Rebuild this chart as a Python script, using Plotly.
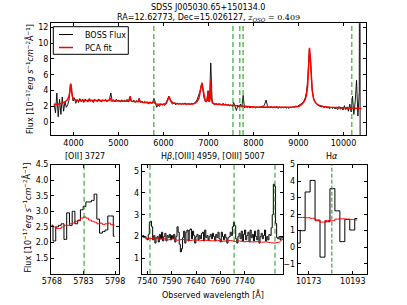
import numpy as np
import plotly.graph_objects as go

W, H = 407, 305

# ---------------- data ----------------
# full BOSS spectrum, regular wavelength grid (start/step), flux in 1e-17 erg/s/cm2/A
full_wave_start = 3570.0
full_wave_step = 30.0
full_flux = [
    2.3, 1.2, 3.7, 0.7, 2.9, 1.0, 3.2, 1.4, 2.6, 1.9,
    2.2, 2.8, 4.8, 3.6, 2.7, 3.1, 2.4, 2.9, 2.5, 3.0,
    2.6, 2.9, 2.5, 2.95, 2.7, 2.55, 3.0, 2.65, 2.8, 2.5,
    2.9, 2.7, 2.6, 2.95, 2.75, 2.55, 2.85, 2.7, 2.9, 2.6,
    2.75, 2.9, 3.7, 2.7, 2.85, 2.6, 2.9, 2.7, 2.8, 2.55,
    2.85, 2.6, 2.8, 2.65, 2.9, 2.55, 3.2, 2.7, 2.6, 2.8,
    2.5, 2.75, 2.6, 3.0, 2.5, 2.7, 2.45, 2.65, 2.5, 2.6,
    2.3, 2.6, 2.4, 2.5, 3.0, 2.3, 1.9, 2.2, 2.0, 2.35,
    2.2, 2.3, 2.15, 2.5, 2.9, 3.3, 2.8, 2.4, 2.3, 2.5,
    2.2, 2.45, 2.3, 2.4, 2.25, 2.4, 2.3, 2.45, 2.2, 2.35,
    2.3, 2.25, 2.4, 2.3, 2.45, 2.6, 2.9, 3.3, 3.9, 4.7,
    4.3, 3.1, 2.6, 2.7, 4.0, 2.6, 7.5, 2.8, 2.3, 2.2,
    2.4, 2.2, 2.35, 2.3, 2.2, 2.4, 2.25, 2.3, 2.15, 2.25,
    2.1, 2.2, 2.0, 2.5, 1.9, 1.5, 2.1, 1.9, 2.3, 1.9,
    3.4, 1.8, 2.0, 1.85, 2.0, 1.8, 1.95, 1.85, 2.0, 1.8,
    1.95, 1.85, 2.0, 1.9, 2.05, 2.0, 2.3, 2.8, 2.1, 1.9,
    1.85, 2.0, 1.8, 1.95, 1.85, 2.0, 1.75, 1.95, 1.8, 1.9,
    1.85, 1.95, 1.8, 1.9, 1.75, 1.95, 1.85, 2.0, 1.9, 2.05,
    2.0, 2.1, 2.2, 2.3, 2.45, 2.7, 3.1, 3.9, 5.8, 9.2,
    7.6, 4.4, 3.1, 2.6, 2.35, 2.2, 2.1, 2.0, 1.95, 2.0,
    1.85, 2.0, 1.8, 1.9, 1.7, 1.95, 1.75, 1.9, 1.7, 1.85,
    1.6, 2.0, 1.65, 1.9, 1.55, 2.1, 1.6, 1.95, 1.4, 2.3,
    1.3, 3.3, 1.0, 2.6, 5.3, 0.8, 3.8,
]
# last (bad, off-scale) pixels of the spectrum
tail_wave = [10366.0, 10371.0]
tail_flux = [60.0, -40.0]

# PCA fit of the full spectrum
pca_wave = [3570, 3620, 3680, 3740, 3800, 3850, 3890, 3915, 3930, 3942,
            3955, 3975, 4000, 4050, 4120, 4200, 4300, 4400, 4500, 4600,
            4700, 4790, 4815, 4840, 4950, 5050, 5150, 5235, 5260, 5285,
            5380, 5440, 5458, 5476, 5560, 5660, 5750, 5780, 5800, 5840,
            5920, 6000, 6060, 6095, 6125, 6155, 6210, 6300, 6420, 6540,
            6640, 6700, 6750, 6790, 6820, 6840, 6855, 6870, 6890, 6920,
            6950, 6975, 6988, 7002, 7025, 7042, 7052, 7062, 7085, 7150,
            7250, 7380, 7500, 7650, 7800, 7950, 8100, 8300, 8500, 8700,
            8900, 9000, 9060, 9110, 9150, 9180, 9205, 9225, 9245, 9262,
            9280, 9305, 9340, 9390, 9450, 9550, 9700, 9850, 10000, 10150,
            10300, 10400]
pca_flux = [2.3, 2.25, 2.3, 2.4, 2.55, 2.75, 3.1, 3.7, 4.4, 4.9,
            4.3, 3.3, 2.95, 2.8, 2.75, 2.8, 2.75, 2.8, 2.75, 2.75,
            2.7, 2.75, 3.05, 2.7, 2.7, 2.65, 2.65, 2.7, 3.3, 2.65,
            2.6, 2.6, 3.0, 2.6, 2.5, 2.45, 2.45, 2.7, 2.45, 2.3,
            2.25, 2.25, 2.4, 2.85, 3.25, 2.8, 2.45, 2.35, 2.3, 2.3,
            2.3, 2.4, 2.65, 3.1, 3.8, 4.5, 5.0, 4.5, 3.6, 2.9,
            2.65, 2.8, 3.8, 2.7, 2.6, 3.5, 5.3, 3.2, 2.45, 2.3,
            2.25, 2.2, 2.1, 2.0, 1.95, 1.92, 1.9, 1.95, 1.9, 1.9,
            1.95, 2.0, 2.2, 2.5, 2.9, 3.5, 4.7, 6.8, 9.4, 8.2,
            6.0, 4.0, 2.9, 2.4, 2.15, 2.0, 1.9, 1.85, 1.8, 1.78,
            1.75, 1.75]

# background emission lines at z = 0.5517: [OII]3727, Hb, [OIII]4959, [OIII]5007, Ha
line_wave = [5783.3, 7543.2, 7695.1, 7769.0, 10183.5]

# [OII] 3727 zoom
oii_wave_start, oii_wave_step = 5767.9, 1.3
oii_flux = [2.55, 2.05, 2.5, 2.55, 2.6, 2.1, 2.95, 2.55, 3.0, 2.6,
            2.7, 3.05, 3.15, 3.3, 3.3, 3.35, 3.55, 2.75, 2.3, 2.35,
            2.4, 2.85, 2.85, 2.2]
oii_pca = [2.55, 2.5, 2.45, 2.45, 2.5, 2.55, 2.55, 2.6, 2.62, 2.68,
           2.72, 2.78, 2.82, 2.78, 2.72, 2.68, 2.65, 2.6, 2.62, 2.58,
           2.6, 2.62, 2.57, 2.55]

# Hb / [OIII] zoom
mid_wave_start, mid_wave_step = 7529.0, 2.0
mid_flux = [
    2.0, 2.05, 1.95, 2.0, 1.9, 1.85, 2.1, 2.65, 2.7, 2.45,
    1.85, 2.05, 1.7, 1.95, 2.0, 1.75, 2.1, 1.9, 2.2, 1.8,
    2.0, 2.15, 1.8, 2.05, 1.95, 2.1, 1.85, 2.05, 1.9, 2.1,
    1.75, 2.0, 2.45, 2.2, 1.65, 1.3, 1.45, 1.95, 2.25, 1.7,
    2.2, 2.3, 1.8, 2.3, 2.35, 1.9, 2.25, 2.05, 1.7, 2.0,
    2.1, 1.85, 2.05, 1.9, 2.15, 2.2, 1.8, 2.3, 1.95, 2.05,
    1.85, 2.0, 2.1, 1.9, 2.15, 2.0, 1.8, 2.1, 1.95, 2.2,
    1.9, 1.75, 2.2, 2.0, 1.85, 2.1, 1.95, 1.7, 1.95, 2.0,
    2.2, 2.05, 2.45, 2.65, 2.5, 1.9, 1.7, 2.0, 2.15, 1.9,
    2.25, 1.8, 2.1, 2.3, 1.85, 2.05, 2.2, 1.75, 2.3, 1.95,
    2.1, 1.8, 2.25, 2.0, 1.85, 2.3, 1.7, 2.0, 2.15, 1.9,
    2.05, 2.3, 1.8, 2.0, 1.85, 2.1, 2.05, 2.4, 3.0, 4.4,
    4.3, 2.6, 1.95, 1.9, 2.0, 1.85, 2.0, 1.95, 1.9,
]
mid_pca_wave = [7529, 7537, 7545, 7553, 7561, 7569, 7577, 7585, 7593, 7601,
                7609, 7617, 7625, 7633, 7641, 7649, 7657, 7665, 7673, 7681,
                7689, 7697, 7705, 7713, 7721, 7729, 7737, 7745, 7753, 7761,
                7769, 7777, 7785]
mid_pca = [2.0, 1.92, 1.9, 1.95, 1.88, 1.9, 1.85, 1.9, 1.83, 1.87,
           1.85, 1.82, 1.86, 1.8, 1.84, 1.82, 1.8, 1.83, 1.78, 1.8,
           1.82, 1.78, 1.8, 1.76, 1.78, 1.75, 1.77, 1.74, 1.76, 1.72,
           1.7, 1.75, 1.92]

# Ha zoom
ha_wave_start, ha_wave_step = 10168.0, 2.25
ha_flux = [0.25, 1.0, 3.34, 4.04, 1.64, -0.6, 1.54, 3.54, 2.2, 0.34, 1.68, 1.04, 1.74]
ha_pca = [1.8, 1.8, 1.78, 1.75, 1.6, 1.52, 1.62, 1.6, 1.7, 1.72, 1.7, 1.68, 1.65]

# ticks (positions as placed in the reference, and their labels)
top_xticks = [4000, 5000, 6000, 7000, 8000, 9000, 10000]
top_yticks = [0, 2, 4, 6, 8, 10, 12]
oii_xticks = [5768, 5783, 5798]
oii_yticks = [1.5, 2.0, 2.5, 3.0, 3.5, 4.0, 4.5]
mid_xtick_pos = [7538.3, 7582.2, 7626.3, 7670.2, 7714.1]
mid_xtick_labels = ["7540", "7590", "7640", "7690", "7740"]
mid_yticks = [1, 2, 3, 4, 5]
ha_xticks = [10173, 10193]
ha_yticks = [-1, 0, 1, 2, 3, 4, 5]

assert len(pca_wave) == len(pca_flux)
assert len(mid_pca_wave) == len(mid_pca)
assert len(oii_flux) == len(oii_pca)
assert len(ha_flux) == len(ha_pca)

full_wave = np.concatenate([full_wave_start + full_wave_step * np.arange(len(full_flux)), tail_wave])
full_all = list(full_flux) + list(tail_flux)
oii_wave = oii_wave_start + oii_wave_step * np.arange(len(oii_flux))
mid_wave = mid_wave_start + mid_wave_step * np.arange(len(mid_flux))
ha_wave = ha_wave_start + ha_wave_step * np.arange(len(ha_flux))

# ---------------- figure ----------------
FONT = "DejaVu Sans"
BLACK = "#000000"
RED = "#ff0000"
GREEN = "rgba(0,140,0,0.6)"

fig = go.Figure()
fig.add_trace(go.Scatter(x=full_wave, y=full_all, mode="lines", line=dict(color=BLACK, width=0.9),
                         xaxis="x", yaxis="y", hoverinfo="skip"))
fig.add_trace(go.Scatter(x=pca_wave, y=pca_flux, mode="lines", line=dict(color=RED, width=1.5),
                         xaxis="x", yaxis="y", hoverinfo="skip"))
fig.add_trace(go.Scatter(x=oii_wave, y=oii_flux, mode="lines", line=dict(color=BLACK, width=1, shape="hvh"),
                         xaxis="x2", yaxis="y2", hoverinfo="skip"))
fig.add_trace(go.Scatter(x=oii_wave, y=oii_pca, mode="lines", line=dict(color=RED, width=1, shape="hvh"),
                         xaxis="x2", yaxis="y2", hoverinfo="skip"))
fig.add_trace(go.Scatter(x=mid_wave, y=mid_flux, mode="lines", line=dict(color=BLACK, width=1, shape="hvh"),
                         xaxis="x3", yaxis="y3", hoverinfo="skip"))
fig.add_trace(go.Scatter(x=mid_pca_wave, y=mid_pca, mode="lines", line=dict(color=RED, width=1),
                         xaxis="x3", yaxis="y3", hoverinfo="skip"))
fig.add_trace(go.Scatter(x=ha_wave, y=ha_flux, mode="lines", line=dict(color=BLACK, width=1, shape="hvh"),
                         xaxis="x4", yaxis="y4", hoverinfo="skip"))
fig.add_trace(go.Scatter(x=ha_wave, y=ha_pca, mode="lines", line=dict(color=RED, width=1, shape="hvh"),
                         xaxis="x4", yaxis="y4", hoverinfo="skip"))


def px_x(p):
    return p / W


def px_y(p):
    return 1 - p / H


def fmt(v, dec):
    s = f"{v:.{dec}f}"
    return s.replace("-", "−")


def axis(domain, rng, tickvals, anchor, dec=0, ticktext=None):
    if ticktext is None:
        ticktext = [fmt(v, dec) for v in tickvals]
    return dict(domain=domain, range=rng, tickvals=tickvals, ticktext=ticktext,
                anchor=anchor, automargin=False,
                ticks="inside", ticklen=3, tickwidth=0.8, tickcolor="black",
                showline=True, linecolor="black", linewidth=1, mirror="ticks",
                showgrid=False, zeroline=False, fixedrange=True,
                tickfont=dict(family=FONT, size=8, color="black"))


top_y = [px_y(135), px_y(23.3)]
bot_y = [px_y(273.7), px_y(164.5)]

fig.update_layout(
    width=W, height=H, margin=dict(l=0, r=0, t=0, b=0, pad=0),
    paper_bgcolor="white", plot_bgcolor="white", showlegend=False,
    font=dict(family=FONT, size=8, color="black"),
    xaxis=axis([px_x(51), px_x(366)], [3500, 10500], top_xticks, "y"),
    yaxis=axis(top_y, [-1.6, 12.5], top_yticks, "x"),
    xaxis2=axis([px_x(51), px_x(119.3)], [5767.6, 5800.0], oii_xticks, "y2"),
    yaxis2=axis(bot_y, [1.0, 4.5], oii_yticks, "x2", dec=1),
    xaxis3=axis([px_x(141.7), px_x(283.3)], [7528.2, 7784.0], mid_xtick_pos, "y3",
                ticktext=mid_xtick_labels),
    yaxis3=axis(bot_y, [0.3, 5.3], mid_yticks, "x3"),
    xaxis4=axis([px_x(297.7), px_x(366.7)], [10168.0, 10199.3], ha_xticks, "y4"),
    yaxis4=axis(bot_y, [-1.6, 5.0], ha_yticks, "x4"),
)

shapes = []
dash_main = dict(color=GREEN, width=1.5, dash="5px,3px")
for w in line_wave:
    shapes.append(dict(type="line", xref="x", yref="y domain", x0=w, x1=w, y0=0, y1=1, line=dash_main))
shapes.append(dict(type="line", xref="x2", yref="y2 domain", x0=line_wave[0], x1=line_wave[0], y0=0, y1=1,
                   line=dash_main))
for w in line_wave[1:4]:
    shapes.append(dict(type="line", xref="x3", yref="y3 domain", x0=w, x1=w, y0=0, y1=1, line=dash_main))
shapes.append(dict(type="line", xref="x4", yref="y4 domain", x0=line_wave[4], x1=line_wave[4], y0=0, y1=1,
                   line=dict(color="rgba(0,128,0,0.9)", width=1, dash="4px,2px")))
# legend box
shapes.append(dict(type="rect", xref="paper", yref="paper", x0=px_x(53.3), x1=px_x(128.3),
                   y0=px_y(54.3), y1=px_y(26.7), fillcolor="white", line=dict(color="black", width=1)))
shapes.append(dict(type="line", xref="paper", yref="paper", x0=px_x(59), x1=px_x(73),
                   y0=px_y(34.5), y1=px_y(34.5), line=dict(color=BLACK, width=1)))
shapes.append(dict(type="line", xref="paper", yref="paper", x0=px_x(59), x1=px_x(73),
                   y0=px_y(47.5), y1=px_y(47.5), line=dict(color=RED, width=1.5)))
fig.update_layout(shapes=shapes)

ylab = ("Flux [10<sup>−17</sup><i>erg s</i><sup>−1</sup><i>cm</i><sup>−2</sup>"
        "Å<sup>−1</sup>]")
ann = [
    dict(text="SDSS J005030.65+150134.0", x=px_x(208), y=px_y(7.5)),
    dict(text="RA=12.62773, Dec=15.026127, "
              "<span style=\"font-family:DejaVu Serif\"><i>z</i><sub><i>QSO</i></sub> = 0.409</span>",
         x=px_x(208), y=px_y(17.8)),
    dict(text="BOSS Flux", x=px_x(83), y=px_y(35), xanchor="left"),
    dict(text="PCA fit", x=px_x(83), y=px_y(48), xanchor="left"),
    dict(text=ylab, x=px_x(29), y=px_y(79), textangle=-90),
    dict(text=ylab, x=px_x(26.5), y=px_y(218), textangle=-90),
    dict(text="[OII] 3727", x=px_x(85), y=px_y(156.5)),
    dict(text="H<i>β</i>,[OIII] 4959, [OIII] 5007", x=px_x(212.5), y=px_y(156)),
    dict(text="H<i>α</i>", x=px_x(332), y=px_y(156)),
    dict(text="Observed wavelength [Å]", x=px_x(212.5), y=px_y(294)),
]
for a in ann:
    base = dict(xref="paper", yref="paper", showarrow=False, xanchor="center", yanchor="middle",
                font=dict(family=FONT, size=8, color="black"))
    base.update(a)
    fig.add_annotation(**base)

fig.write_html("out.html", config={"displayModeBar": False},
               post_script="document.body.style.margin='0px';")
